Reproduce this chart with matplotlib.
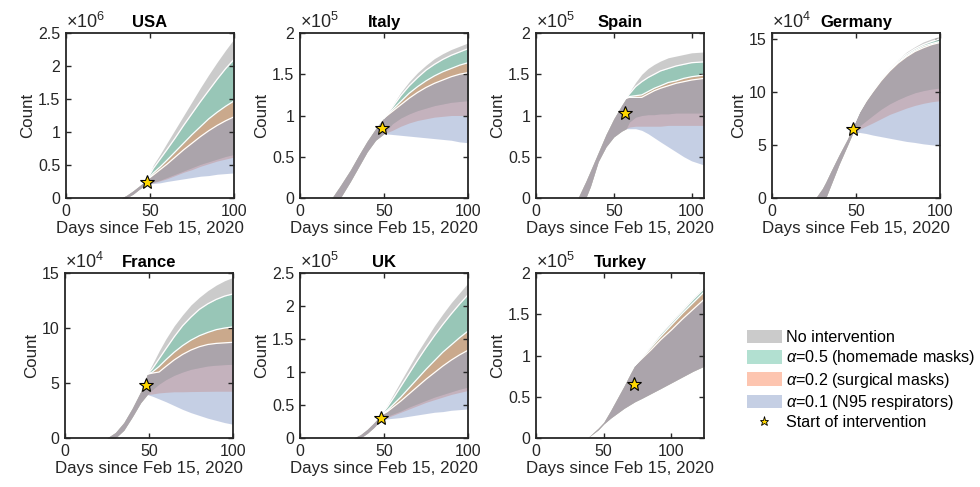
import matplotlib
matplotlib.use("Agg")
import matplotlib.pyplot as plt
from matplotlib.patches import Patch
from matplotlib.lines import Line2D

plt.rcParams["font.family"] = ["Liberation Sans", "DejaVu Sans"]
plt.rcParams["mathtext.fontset"] = "custom"
plt.rcParams["mathtext.rm"] = "Liberation Sans"
plt.rcParams["mathtext.it"] = "Liberation Sans:italic"

# colours of the four scenarios (drawn with alpha 0.5)
band_colors = ["#999999", "#66c2a5", "#fc8d62", "#8da0cb"]
band_labels = ["No intervention", r"$\alpha$=0.5 (homemade masks)",
               r"$\alpha$=0.2 (surgical masks)", r"$\alpha$=0.1 (N95 respirators)"]

# ---------------- data (counts in units of the axis multiplier) ----------------
# USA  (x1e6)
usa_pre_days = [33, 36, 40, 44, 48]
usa_pre_lo = [0, 0, 0.06, 0.14, 0.21]
usa_pre_hi = [0, 0.04, 0.11, 0.19, 0.27]
usa_days = [52, 56, 60, 65, 70, 75, 80, 85, 90, 95, 100]
usa_gray_hi = [0.5, 0.66, 0.83, 1.04, 1.25, 1.46, 1.67, 1.87, 2.06, 2.24, 2.41]
usa_green_hi = [0.45, 0.59, 0.73, 0.91, 1.1, 1.28, 1.46, 1.63, 1.8, 1.96, 2.1]
usa_orange_hi = [0.38, 0.47, 0.57, 0.7, 0.83, 0.96, 1.08, 1.2, 1.3, 1.39, 1.47]
usa_blue_hi = [0.35, 0.43, 0.51, 0.62, 0.73, 0.83, 0.93, 1.02, 1.1, 1.17, 1.23]
usa_gray_lo = [0.24, 0.27, 0.31, 0.36, 0.41, 0.46, 0.51, 0.55, 0.59, 0.63, 0.66]
usa_orange_lo = [0.23, 0.26, 0.29, 0.34, 0.39, 0.43, 0.48, 0.52, 0.56, 0.59, 0.62]
usa_blue_lo = [0.22, 0.23, 0.25, 0.27, 0.29, 0.31, 0.33, 0.34, 0.36, 0.37, 0.38]

# Italy  (x1e5)
italy_pre_days = [19, 24, 30, 35, 40, 45, 50]
italy_pre_lo = [0, 0, 0.2, 0.38, 0.56, 0.7, 0.78]
italy_pre_hi = [0, 0.15, 0.34, 0.52, 0.69, 0.84, 0.97]
italy_days = [55, 60, 65, 70, 75, 80, 85, 90, 95, 100]
italy_gray_hi = [1.12, 1.28, 1.41, 1.52, 1.61, 1.69, 1.75, 1.8, 1.84, 1.88]
italy_green_hi = [1.1, 1.24, 1.36, 1.46, 1.55, 1.62, 1.68, 1.73, 1.77, 1.81]
italy_orange_hi = [1.07, 1.17, 1.27, 1.35, 1.42, 1.48, 1.53, 1.57, 1.61, 1.64]
italy_blue_hi = [1.05, 1.13, 1.21, 1.28, 1.34, 1.39, 1.43, 1.47, 1.5, 1.52]
italy_gray_lo = [0.9, 0.97, 1.02, 1.06, 1.09, 1.12, 1.14, 1.16, 1.17, 1.18]
italy_orange_lo = [0.82, 0.87, 0.91, 0.94, 0.96, 0.98, 0.99, 1.0, 1.0, 1.0]
italy_blue_lo = [0.77, 0.76, 0.75, 0.74, 0.73, 0.72, 0.71, 0.7, 0.68, 0.67]

# Spain  (x1e5)
spain_pre_days = [27, 32, 35, 40, 45, 50, 55, 58]
spain_pre_lo = [0, 0, 0.14, 0.44, 0.62, 0.74, 0.81, 0.84]
spain_pre_hi = [0, 0.2, 0.33, 0.55, 0.77, 0.96, 1.12, 1.21]
spain_days = [60, 64, 68, 72, 76, 80, 85, 90, 95, 100, 108]
spain_gray_hi = [1.28, 1.4, 1.5, 1.57, 1.62, 1.66, 1.7, 1.72, 1.74, 1.76, 1.77]
spain_green_hi = [1.26, 1.35, 1.41, 1.46, 1.5, 1.54, 1.57, 1.6, 1.62, 1.64, 1.65]
spain_orange_hi = [1.23, 1.24, 1.25, 1.29, 1.33, 1.36, 1.4, 1.42, 1.45, 1.47, 1.49]
spain_blue_hi = [1.22, 1.22, 1.22, 1.26, 1.3, 1.33, 1.36, 1.39, 1.41, 1.43, 1.45]
spain_gray_lo = [0.92, 0.98, 1.0, 1.01, 1.01, 1.02, 1.02, 1.03, 1.03, 1.03, 1.03]
spain_orange_lo = [0.86, 0.87, 0.87, 0.87, 0.87, 0.87, 0.88, 0.88, 0.88, 0.88, 0.88]
spain_blue_lo = [0.84, 0.84, 0.82, 0.78, 0.73, 0.68, 0.62, 0.56, 0.5, 0.45, 0.4]

# Germany  (x1e4)
germany_pre_days = [26, 30, 32, 35, 40, 45, 48]
germany_pre_lo = [0, 0, 0, 1.2, 3.2, 5.0, 6.1]
germany_pre_hi = [0, 0.9, 1.5, 2.5, 4.1, 5.6, 6.7]
germany_days = [52, 56, 60, 65, 70, 75, 80, 85, 90, 95, 100]
germany_gray_hi = [8.2, 9.3, 10.3, 11.4, 12.3, 13.1, 13.8, 14.3, 14.75, 15.05, 15.3]
germany_green_hi = [8.15, 9.25, 10.2, 11.3, 12.2, 13.0, 13.6, 14.1, 14.5, 14.8, 15.05]
germany_orange_hi = [8.1, 9.2, 10.1, 11.2, 12.1, 12.85, 13.45, 13.95, 14.35, 14.6, 14.8]
germany_blue_hi = [8.1, 9.15, 10.05, 11.1, 12.0, 12.75, 13.35, 13.85, 14.2, 14.5, 14.7]
germany_gray_lo = [6.8, 7.3, 7.8, 8.4, 8.9, 9.3, 9.65, 9.95, 10.15, 10.3, 10.4]
germany_orange_lo = [6.5, 6.8, 7.1, 7.5, 7.9, 8.2, 8.5, 8.75, 8.95, 9.1, 9.2]
germany_blue_lo = [6.2, 6.1, 5.95, 5.8, 5.65, 5.5, 5.35, 5.25, 5.12, 5.03, 4.95]

# France  (x1e4)
france_pre_days = [25, 30, 35, 40, 45, 49]
france_pre_lo = [0, 0, 0.7, 1.9, 3.2, 3.95]
france_pre_hi = [0, 0.5, 1.4, 2.7, 4.2, 5.8]
france_days = [52, 56, 60, 65, 70, 75, 80, 85, 90, 95, 100]
france_gray_hi = [6.7, 7.9, 9.0, 10.2, 11.2, 12.1, 12.8, 13.4, 13.9, 14.3, 14.6]
france_green_hi = [6.3, 7.2, 8.1, 9.2, 10.2, 11.0, 11.7, 12.2, 12.6, 12.9, 13.1]
france_orange_hi = [6.0, 6.5, 7.1, 7.8, 8.4, 8.9, 9.3, 9.6, 9.85, 10.0, 10.1]
france_blue_hi = [5.9, 6.0, 6.5, 7.1, 7.6, 8.0, 8.3, 8.5, 8.6, 8.65, 8.7]
france_gray_lo = [4.4, 4.9, 5.3, 5.7, 6.0, 6.25, 6.4, 6.55, 6.62, 6.67, 6.7]
france_orange_lo = [4.0, 4.1, 4.15, 4.2, 4.2, 4.22, 4.23, 4.24, 4.25, 4.25, 4.25]
france_blue_lo = [3.8, 3.55, 3.3, 2.95, 2.6, 2.3, 2.05, 1.8, 1.6, 1.4, 1.25]

# UK  (x1e5)
uk_pre_days = [32, 36, 40, 44, 48]
uk_pre_lo = [0, 0, 0.07, 0.16, 0.27]
uk_pre_hi = [0, 0.05, 0.13, 0.23, 0.34]
uk_days = [52, 56, 60, 65, 70, 75, 80, 85, 90, 95, 100]
uk_gray_hi = [0.5, 0.68, 0.86, 1.08, 1.3, 1.5, 1.7, 1.88, 2.05, 2.2, 2.35]
uk_green_hi = [0.47, 0.62, 0.78, 0.98, 1.18, 1.37, 1.55, 1.72, 1.88, 2.03, 2.17]
uk_orange_hi = [0.42, 0.52, 0.62, 0.76, 0.9, 1.04, 1.17, 1.3, 1.41, 1.52, 1.62]
uk_blue_hi = [0.4, 0.48, 0.56, 0.67, 0.78, 0.89, 0.99, 1.09, 1.18, 1.26, 1.33]
uk_gray_lo = [0.33, 0.37, 0.41, 0.47, 0.52, 0.57, 0.62, 0.66, 0.7, 0.74, 0.77]
uk_orange_lo = [0.31, 0.35, 0.39, 0.44, 0.49, 0.54, 0.58, 0.62, 0.66, 0.69, 0.72]
uk_blue_lo = [0.29, 0.3, 0.31, 0.33, 0.35, 0.37, 0.39, 0.4, 0.42, 0.43, 0.44]

# Turkey  (x1e5)
turkey_pre_days = [38, 42, 46, 50, 55, 60, 65, 70, 73]
turkey_pre_lo = [0, 0.05, 0.1, 0.17, 0.24, 0.3, 0.36, 0.41, 0.44]
turkey_pre_hi = [0, 0.06, 0.12, 0.19, 0.33, 0.48, 0.63, 0.79, 0.88]
turkey_days = [78, 85, 92, 100, 108, 116, 124]
turkey_gray_hi = [0.99, 1.13, 1.27, 1.42, 1.56, 1.7, 1.83]
turkey_green_hi = [0.98, 1.12, 1.26, 1.4, 1.54, 1.68, 1.81]
turkey_orange_hi = [0.97, 1.1, 1.23, 1.37, 1.51, 1.64, 1.77]
turkey_blue_hi = [0.96, 1.07, 1.19, 1.31, 1.44, 1.56, 1.68]
turkey_gray_lo = [0.48, 0.54, 0.6, 0.67, 0.74, 0.81, 0.87]

countries = ["USA", "Italy", "Spain", "Germany", "France", "UK", "Turkey"]
exponents = [6, 5, 5, 4, 4, 5, 5]
x_max = [100, 100, 108, 100, 100, 100, 124]
y_max = [2.5, 2, 2, 15.6, 15, 2.5, 2]
y_step = [0.5, 0.5, 0.5, 5, 5, 0.5, 0.5]
star_day = [48.2, 48.7, 57.4, 48.1, 48.1, 48.3, 72]
star_count = [0.245, 0.85, 1.03, 6.5, 4.86, 0.31, 0.66]

pre = [
    (usa_pre_days, usa_pre_lo, usa_pre_hi),
    (italy_pre_days, italy_pre_lo, italy_pre_hi),
    (spain_pre_days, spain_pre_lo, spain_pre_hi),
    (germany_pre_days, germany_pre_lo, germany_pre_hi),
    (france_pre_days, france_pre_lo, france_pre_hi),
    (uk_pre_days, uk_pre_lo, uk_pre_hi),
    (turkey_pre_days, turkey_pre_lo, turkey_pre_hi),
]
# post-intervention bands: (days, [(lo, hi) gray, green, orange, blue])
post = [
    (usa_days, [(usa_gray_lo, usa_gray_hi), (usa_gray_lo, usa_green_hi),
                (usa_orange_lo, usa_orange_hi), (usa_blue_lo, usa_blue_hi)]),
    (italy_days, [(italy_gray_lo, italy_gray_hi), (italy_gray_lo, italy_green_hi),
                  (italy_orange_lo, italy_orange_hi), (italy_blue_lo, italy_blue_hi)]),
    (spain_days, [(spain_gray_lo, spain_gray_hi), (spain_gray_lo, spain_green_hi),
                  (spain_orange_lo, spain_orange_hi), (spain_blue_lo, spain_blue_hi)]),
    (germany_days, [(germany_gray_lo, germany_gray_hi), (germany_gray_lo, germany_green_hi),
                    (germany_orange_lo, germany_orange_hi), (germany_blue_lo, germany_blue_hi)]),
    (france_days, [(france_gray_lo, france_gray_hi), (france_gray_lo, france_green_hi),
                   (france_orange_lo, france_orange_hi), (france_blue_lo, france_blue_hi)]),
    (uk_days, [(uk_gray_lo, uk_gray_hi), (uk_gray_lo, uk_green_hi),
               (uk_orange_lo, uk_orange_hi), (uk_blue_lo, uk_blue_hi)]),
    (turkey_days, [(turkey_gray_lo, turkey_gray_hi), (turkey_gray_lo, turkey_green_hi),
                   (turkey_gray_lo, turkey_orange_hi), (turkey_gray_lo, turkey_blue_hi)]),
]

# ---------------- figure ----------------
fig = plt.figure(figsize=(9.8, 4.87), dpi=100)
W, H = 980, 487
lefts = [66, 300, 536, 772, 65, 300, 536]
bottoms = [289, 289, 289, 289, 49, 49, 49]
txt = (0.15, 0.15, 0.15)

for i, name in enumerate(countries):
    ax = fig.add_axes([lefts[i] / W, bottoms[i] / H, 168 / W, 165 / H])
    pd_, plo, phi = pre[i]
    days, bands = post[i]
    x = pd_ + days
    for (lo, hi), col in zip(bands, band_colors):
        ax.fill_between(x, plo + lo, phi + hi, color=col, alpha=0.5, lw=0)
    # white edges on the upper limits of the intervention bands
    for lo, hi in bands[1:]:
        ax.plot([pd_[-1]] + days, [phi[-1]] + hi, color="white", lw=0.9)
    ax.plot(star_day[i], star_count[i], marker="*", ms=10.5, mfc="#ffd700",
            mec="black", mew=0.8, ls="none", zorder=5)

    ax.set_xlim(0, x_max[i])
    ax.set_ylim(0, y_max[i])
    ax.set_xticks([t for t in (0, 50, 100) if t <= x_max[i]])
    n = int(y_max[i] / y_step[i] + 1e-9)
    ax.set_yticks([k * y_step[i] for k in range(n + 1)])
    ax.yaxis.set_major_formatter(matplotlib.ticker.FormatStrFormatter("%g"))
    ax.tick_params(direction="in", top=True, right=True, length=3.5, width=1,
                   labelsize=11.5, colors=txt, pad=4)
    for sp in ax.spines.values():
        sp.set_linewidth(1.3)
        sp.set_color((0.15, 0.15, 0.15))
    ax.set_xlabel("Days since Feb 15, 2020", fontsize=12.2, color=txt, labelpad=2)
    ax.set_ylabel("Count", fontsize=12.2, color=txt, labelpad=2)
    ax.set_title(name, fontsize=12, fontweight="bold", pad=4)
    ax.text(0, 1.008, r"$\times10^{%d}$" % exponents[i], transform=ax.transAxes,
            ha="left", va="bottom", fontsize=13, color=txt)

handles = [Patch(facecolor=c, alpha=0.5, lw=0) for c in band_colors]
handles.append(Line2D([], [], marker="*", ls="none", ms=6.5, mfc="#ffd700",
                      mec="black", mew=0.6))
labels = band_labels + ["Start of intervention"]
fig.legend(handles, labels, loc="upper left", bbox_to_anchor=(747 / W, 1 - 330 / H),
           frameon=False, fontsize=11.6, handlelength=2.15, handleheight=0.9,
           labelspacing=0.2, handletextpad=0.3, borderpad=0, borderaxespad=0)

fig.savefig("out.png", dpi=100)
